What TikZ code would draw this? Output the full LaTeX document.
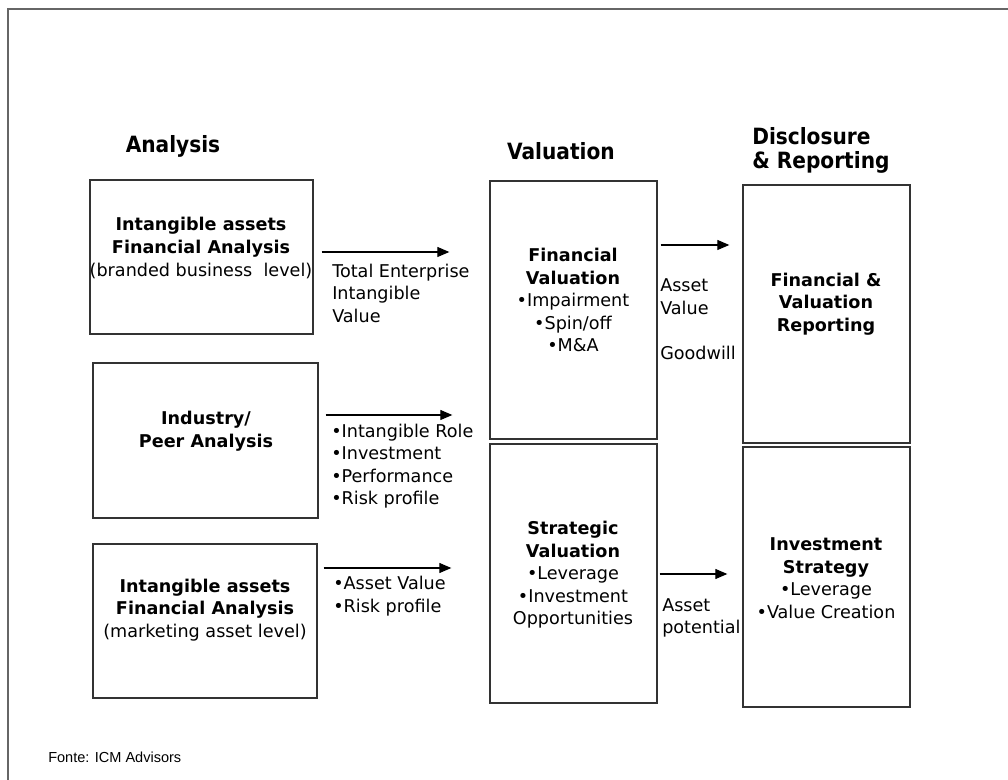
\documentclass[tikz,border=0pt]{standalone}
\usepackage{fontspec}
\setmainfont{DejaVu Sans}
\newfontfamily\headfont{DejaVu Sans Condensed}
\newfontfamily\notefont{Liberation Sans}
\usetikzlibrary{arrows.meta,calc,fit}

\begin{document}
\begin{tikzpicture}[x=0.75pt,y=-0.75pt,
  frame/.style={draw=black!60,line width=1.5pt},
  stagebox/.style={draw=black!80,line width=1pt,inner sep=0pt,fill=none},
  body/.style={font=\fontsize{13.2}{16.9}\selectfont,inner sep=0pt},
  boxtext/.style={body,align=center},
  flowlabel/.style={body,align=left,anchor=west},
  heading/.style={font=\headfont\bfseries\fontsize{16.8}{18}\selectfont,inner sep=0pt},
  flow/.style={draw=black,line width=0.8pt,-{Triangle[length=9pt,width=7.5pt]}}
]
\useasboundingbox (0,0) rectangle (1008,780);

% open page frame (top and left edges only)
\draw[frame] (7.5,780) -- (7.5,9.5) -- (1008,9.5);

% column headings
\node[heading] (hA) at (173,146) {Analysis};
\node[heading] (hV) at (561,151) {Valuation};
\node[heading,align=left,anchor=west] (hD) at (752,150) {Disclosure\\\& Reporting};

% stage boxes
\node[stagebox,fit={(90,180) (313,334)}] (A1) {};
\node[stagebox,fit={(93,363) (318,518)}] (A2) {};
\node[stagebox,fit={(93,544) (317,698)}] (A3) {};
\node[stagebox,fit={(490,181) (657,439)}] (V1) {};
\node[stagebox,fit={(490,444) (657,703)}] (V2) {};
\node[stagebox,fit={(743,185) (910,443)}] (D1) {};
\node[stagebox,fit={(743,447) (910,707)}] (D2) {};

% box contents
\node[boxtext] (tA1) at (201,248) {\textbf{Intangible assets}\\\textbf{Financial Analysis}\\(branded business~ level)};
\node[boxtext] (tA2) at (206,431) {\textbf{Industry/}\\\textbf{Peer Analysis}};
\node[boxtext] (tA3) at (205,610) {\textbf{Intangible assets}\\\textbf{Financial Analysis}\\(marketing asset level)};
\node[boxtext] (tV1) at (573,300) {\textbf{Financial}\\\textbf{Valuation}\\•Impairment\\•Spin/off\\•M\&A};
\node[boxtext] (tV2) at (573,575) {\textbf{Strategic}\\\textbf{Valuation}\\•Leverage\\•Investment\\Opportunities};
\node[boxtext] (tD1) at (826,304) {\textbf{Financial \&}\\\textbf{Valuation}\\\textbf{Reporting}};
\node[boxtext] (tD2) at (826,578) {\textbf{Investment}\\\textbf{Strategy}\\•Leverage\\•Value Creation};

% connectors
\coordinate (s1) at ($(A1.east)+(8,-5)$);
\coordinate (s2) at ($(A2.east)+(7,-25.5)$);
\coordinate (s3) at ($(A3.east)+(6,-53)$);
\coordinate (s4) at ($(V1.east)+(3,-65)$);
\coordinate (s5) at ($(V2.east)+(2,0.5)$);
\draw[flow] (s1) -- ($(s1 -| V1.west)+(-40,0)$);
\draw[flow] (s2) -- ($(s2 -| V1.west)+(-37,0)$);
\draw[flow] (s3) -- ($(s3 -| V2.west)+(-38,0)$);
\draw[flow] (s4) -- ($(s4 -| D1.west)+(-13,0)$);
\draw[flow] (s5) -- ($(s5 -| D2.west)+(-15,0)$);

% connector labels
\node[flowlabel] (l1) at (332,293) {Total Enterprise\\Intangible\\Value};
\node[flowlabel] (l2) at (331,466) {•Intangible Role\\•Investment\\•Performance\\•Risk profile};
\node[flowlabel] (l3) at (333,596) {•Asset Value\\•Risk profile};
\node[flowlabel] (l4) at (660,319) {Asset\\Value\\[16.9pt]Goodwill};
\node[flowlabel] (l5) at (662,618) {Asset\\potential};

% source note
\node[font=\notefont\fontsize{10.9}{13}\selectfont,anchor=west,inner sep=0pt] (src) at (48,757) {Fonte: ICM Advisors};
\end{tikzpicture}
\end{document}
